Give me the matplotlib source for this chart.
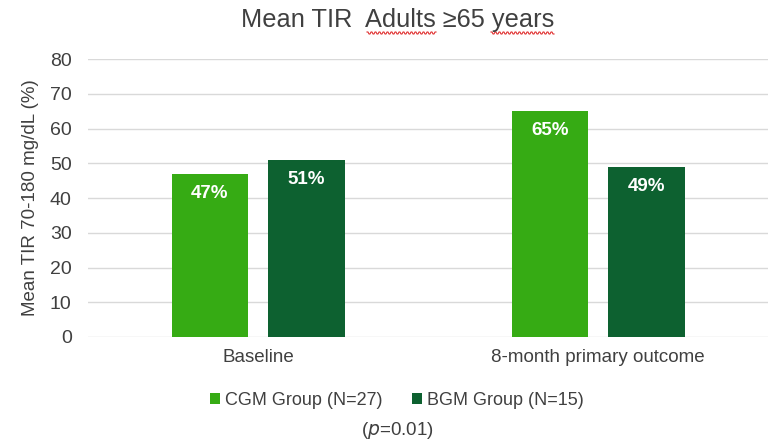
import numpy as np
import matplotlib.pyplot as plt

plt.rcParams['font.family'] = ['Liberation Sans', 'DejaVu Sans']

categories = ['Baseline', '8-month primary outcome']
cgm_values = [47, 65]
bgm_values = [51, 49]
series_names = ['CGM Group (N=27)', 'BGM Group (N=15)']
cgm_color = '#36AB14'
bgm_color = '#0D6130'
text_gray = '#404040'

fig = plt.figure(figsize=(7.68, 4.44), dpi=100)
ax = fig.add_axes([0.115, 0.241, 0.885, 0.626])

x = np.arange(len(categories))
w = 0.225
off = 0.142
b1 = ax.bar(x - off, cgm_values, w, color=cgm_color, label=series_names[0], zorder=2)
b2 = ax.bar(x + off, bgm_values, w, color=bgm_color, label=series_names[1], zorder=2)

for bars, vals in ((b1, cgm_values), (b2, bgm_values)):
    for r, v in zip(bars, vals):
        ax.text(r.get_x() + r.get_width() / 2, v - 3.2, f'{v}%', ha='center', va='top',
                color='white', fontsize=13.5, fontweight='bold', zorder=3)

ax.set_xlim(-0.5, 1.5)
ax.set_ylim(0, 80)
ax.set_yticks(range(0, 81, 10))
ax.set_xticks(x)
ax.set_xticklabels(categories, fontsize=13.5, color=text_gray)
ax.tick_params(axis='y', labelsize=14, labelcolor=text_gray, length=0, pad=12)
ax.tick_params(axis='x', length=0, pad=9)
ax.grid(axis='y', color='#D9D9D9', linewidth=1, zorder=0)
for s in ax.spines.values():
    s.set_visible(False)
ax.set_ylabel('Mean TIR 70-180 mg/dL (%)', fontsize=13.5, color=text_gray, labelpad=8)

fig.text(0.518, 0.955, 'Mean TIR  Adults \u226565 years', ha='center', va='center',
         fontsize=18.3, color=text_gray)

# spell-check squiggles under the title words (pixel coords)
for x0, x1 in ((367, 436), (491, 554)):
    xs = np.arange(x0, x1 + 1, 1.0)
    ys = 444 - 33 + 1.0 * np.where((xs - x0) % 4 < 2, 1, -1)
    fig.add_artist(plt.Line2D(xs / 768, ys / 444, color='#E03030', linewidth=0.8))

leg = fig.legend(loc='center', bbox_to_anchor=(0.517, 0.099), ncol=2, frameon=False,
                 fontsize=13, handlelength=0.55, handleheight=0.55, handletextpad=0.3,
                 columnspacing=1.6)
for t in leg.get_texts():
    t.set_color(text_gray)

fig.text(0.517, 0.03, '($\\it{p}$=0.01)', ha='center', va='center', fontsize=13.5,
         color=text_gray)

fig.savefig('out.png', dpi=100)
